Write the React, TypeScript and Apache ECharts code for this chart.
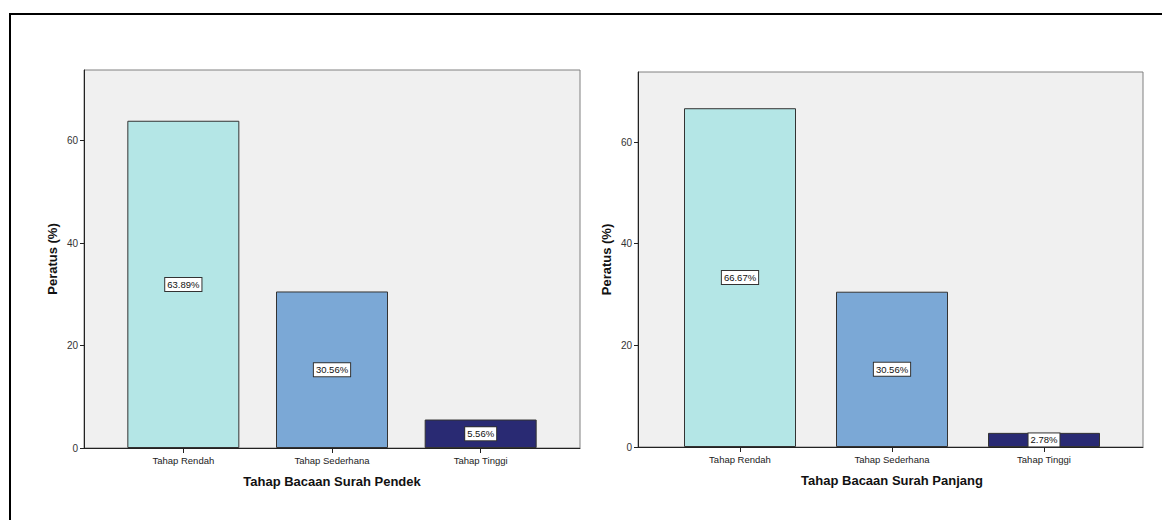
import React, { useEffect, useRef } from "react";
import * as echarts from "echarts";

const categories = ["Tahap Rendah", "Tahap Sederhana", "Tahap Tinggi"];
const pendekValues = [63.89, 30.56, 5.56];
const panjangValues = [66.67, 30.56, 2.78];
const barColors = ["#b4e6e6", "#7ba8d6", "#292a73"];
const yTickValues = [0, 20, 40, 60];
const leftTitle = "Tahap Bacaan Surah Pendek";
const rightTitle = "Tahap Bacaan Surah Panjang";
const yName = "Peratus (%)";

const FONT = "'Liberation Sans', Arial, sans-serif";

function buildAxes(bgGrid: number, dataGrid: number, title: string, yOffset: number) {
  const xBg = {
    gridIndex: bgGrid,
    type: "value",
    min: 0,
    max: 1,
    axisLine: { show: true, lineStyle: { color: "#222", width: 1 } },
    axisTick: { show: false },
    axisLabel: { show: false },
    splitLine: { show: false },
  };
  const xData = {
    gridIndex: dataGrid,
    type: "category",
    data: categories,
    axisLine: { show: false },
    axisTick: { show: true, alignWithLabel: true, length: 5, lineStyle: { color: "#222" } },
    axisLabel: { fontSize: 9.5, color: "#222", margin: 7, fontFamily: FONT },
    name: title,
    nameLocation: "middle",
    nameGap: 27,
    nameTextStyle: { fontSize: 13, fontWeight: "bold", color: "#111", fontFamily: FONT },
  };
  const yBg = { gridIndex: bgGrid, type: "value", show: false, min: 0, max: 1 };
  const yData = {
    gridIndex: dataGrid,
    type: "value",
    min: 0,
    max: 73.8,
    offset: yOffset,
    axisLine: { show: true, lineStyle: { color: "#222", width: 1 } },
    axisTick: { show: true, length: 4, customValues: yTickValues, lineStyle: { color: "#222" } },
    axisLabel: { customValues: yTickValues, fontSize: 10, color: "#333", margin: 6, fontFamily: FONT },
    splitLine: { show: false },
    name: yName,
    nameLocation: "middle",
    nameGap: 25,
    nameTextStyle: { fontSize: 13, fontWeight: "bold", color: "#111", fontFamily: FONT },
  };
  return { xBg, xData, yBg, yData };
}

function barSeries(values: number[], axisIndex: number) {
  return {
    type: "bar",
    xAxisIndex: axisIndex,
    yAxisIndex: axisIndex,
    barWidth: 112,
    data: values.map((v, i) => ({ value: v, itemStyle: { color: barColors[i] } })),
    itemStyle: { borderColor: "#333", borderWidth: 1 },
    label: {
      show: true,
      position: "inside",
      formatter: (p: any) => Number(p.value).toFixed(2) + "%",
      backgroundColor: "#ffffff",
      borderColor: "#333",
      borderWidth: 1,
      padding: [2, 2, 1, 2],
      fontSize: 9.5,
      color: "#111",
      fontFamily: FONT,
    },
  };
}

export default function App() {
  const ref = useRef<HTMLDivElement>(null);
  useEffect(() => {
    if (!ref.current) return;
    const chart = echarts.init(ref.current, null, { renderer: "svg" });
    const L = buildAxes(0, 1, leftTitle, 25);
    const R = buildAxes(2, 3, rightTitle, 26);
    const bgStyle = { show: true, backgroundColor: "#f0f0f0", borderColor: "#808080", borderWidth: 1 };
    chart.setOption({
      animation: false,
      backgroundColor: "#ffffff",
      textStyle: { fontFamily: FONT },
      grid: [
        { left: 84, top: 70, width: 496, height: 378, ...bgStyle },
        { left: 109, top: 70, width: 446, height: 378 },
        { left: 638, top: 72, width: 505, height: 375, ...bgStyle },
        { left: 664, top: 72, width: 456, height: 375 },
      ],
      xAxis: [L.xBg, L.xData, R.xBg, R.xData],
      yAxis: [L.yBg, L.yData, R.yBg, R.yData],
      series: [barSeries(pendekValues, 1), barSeries(panjangValues, 3)],
      graphic: [
        {
          type: "rect",
          shape: { x: 10, y: 14, width: 1300, height: 700 },
          style: { fill: "none", stroke: "#000", lineWidth: 2 },
          silent: true,
        },
      ],
    });
    return () => chart.dispose();
  }, []);
  return (
    <div
      ref={ref}
      style={{ position: "absolute", left: 0, top: 0, width: 1162, height: 520 }}
    />
  );
}
